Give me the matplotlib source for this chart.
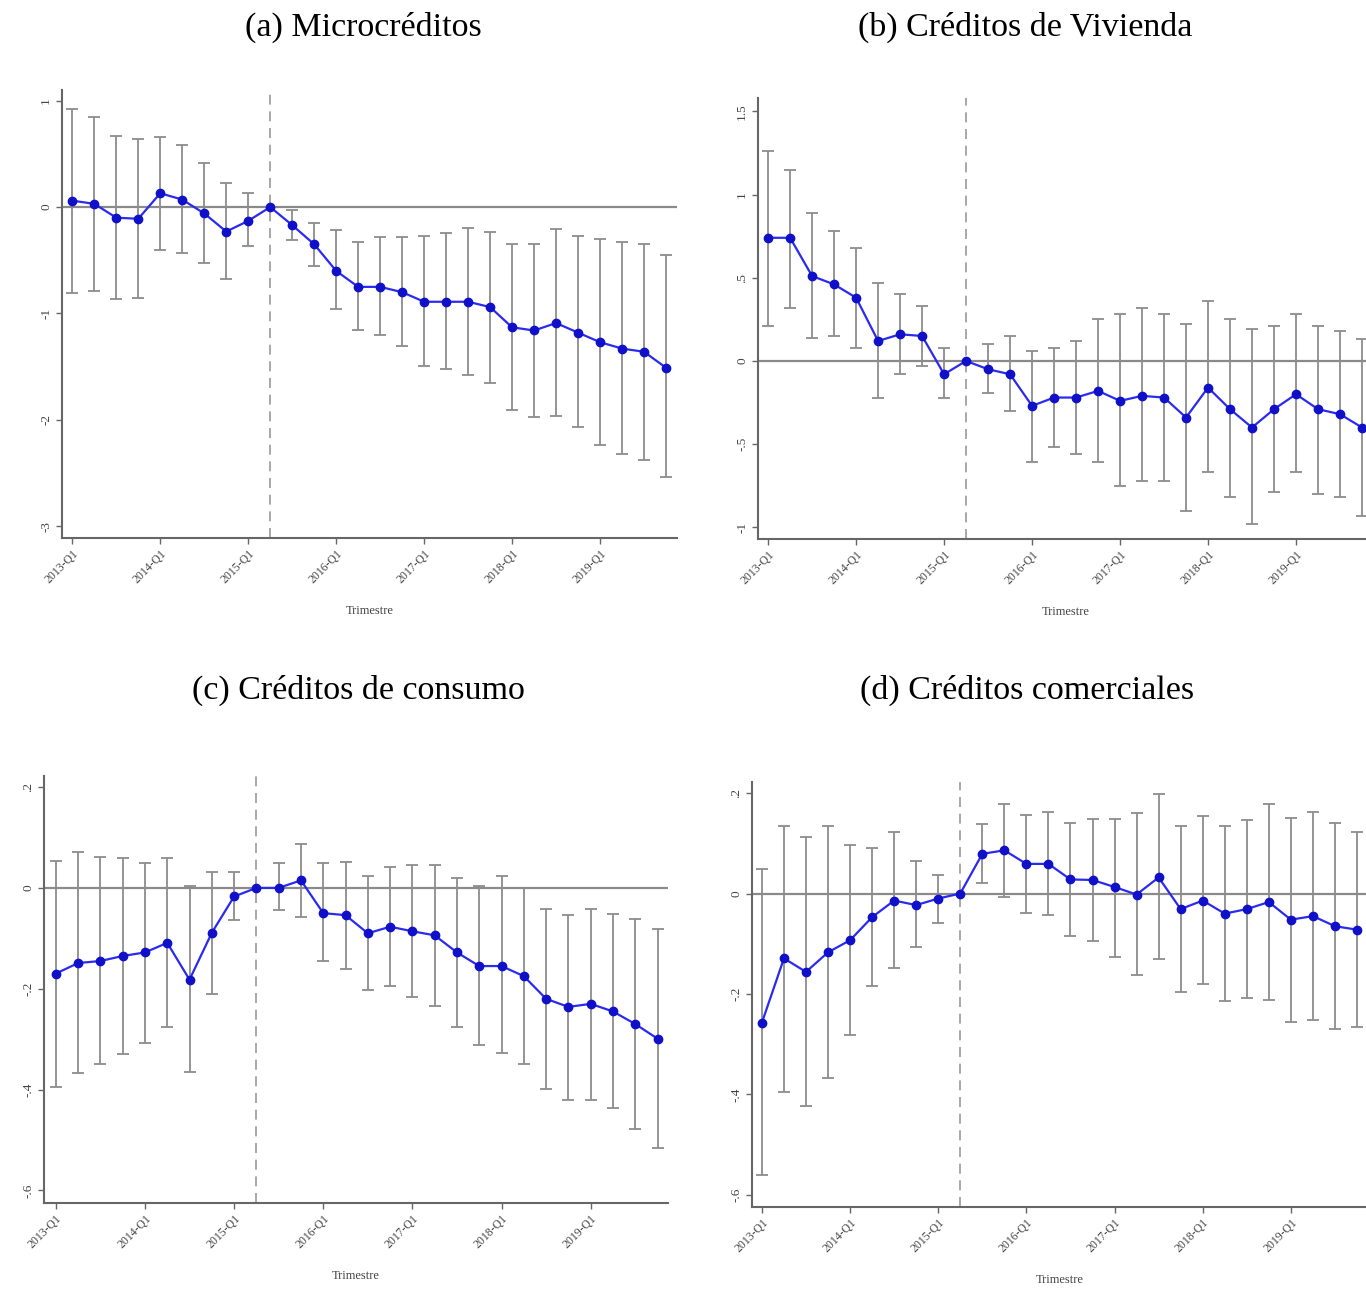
import numpy as np
import matplotlib
matplotlib.use("Agg")
import matplotlib.pyplot as plt

quarters = [f"{y}-Q{q}" for y in range(2013, 2020) for q in range(1, 5)]
tick_labels = [f"{y}-Q1" for y in range(2013, 2020)]

nan = np.nan
# (a) Microcréditos
micro_est = [0.06, 0.03, -0.10, -0.11, 0.13, 0.07, -0.06, -0.23, -0.13, 0.0,
             -0.17, -0.35, -0.60, -0.75, -0.75, -0.80, -0.89, -0.89, -0.89, -0.94,
             -1.13, -1.16, -1.09, -1.18, -1.27, -1.33, -1.36, -1.51]
micro_hi = [0.92, 0.85, 0.67, 0.64, 0.66, 0.58, 0.41, 0.23, 0.13, nan,
            -0.03, -0.15, -0.22, -0.33, -0.28, -0.28, -0.27, -0.24, -0.20, -0.23,
            -0.35, -0.35, -0.21, -0.27, -0.30, -0.33, -0.35, -0.45]
micro_lo = [-0.81, -0.79, -0.86, -0.85, -0.40, -0.43, -0.53, -0.68, -0.37, nan,
            -0.31, -0.55, -0.96, -1.16, -1.20, -1.31, -1.49, -1.52, -1.58, -1.65,
            -1.91, -1.97, -1.96, -2.07, -2.24, -2.32, -2.38, -2.54]

# (b) Créditos de Vivienda
viv_est = [0.74, 0.74, 0.51, 0.46, 0.38, 0.12, 0.16, 0.15, -0.08, 0.0,
           -0.05, -0.08, -0.27, -0.22, -0.22, -0.18, -0.24, -0.21, -0.22, -0.34,
           -0.16, -0.29, -0.40, -0.29, -0.20, -0.29, -0.32, -0.40]
viv_hi = [1.26, 1.15, 0.89, 0.78, 0.68, 0.47, 0.40, 0.33, 0.08, nan,
          0.10, 0.15, 0.06, 0.08, 0.12, 0.25, 0.28, 0.32, 0.28, 0.22,
          0.36, 0.25, 0.19, 0.21, 0.28, 0.21, 0.18, 0.13]
viv_lo = [0.21, 0.32, 0.14, 0.15, 0.08, -0.22, -0.08, -0.03, -0.22, nan,
          -0.19, -0.30, -0.61, -0.52, -0.56, -0.61, -0.75, -0.72, -0.72, -0.90,
          -0.67, -0.82, -0.98, -0.79, -0.67, -0.80, -0.82, -0.93]

# (c) Créditos de consumo
cons_est = [-0.170, -0.149, -0.145, -0.135, -0.128, -0.109, -0.182, -0.089, -0.017, 0.0,
            0.000, 0.015, -0.050, -0.054, -0.090, -0.077, -0.086, -0.094, -0.128, -0.155,
            -0.155, -0.175, -0.220, -0.236, -0.230, -0.245, -0.270, -0.299]
cons_hi = [0.054, 0.071, 0.061, 0.060, 0.050, 0.059, 0.003, 0.032, 0.031, nan,
           0.049, 0.088, 0.049, 0.052, 0.023, 0.041, 0.045, 0.045, 0.019, 0.003,
           0.023, -0.001, -0.041, -0.054, -0.041, -0.052, -0.061, -0.081]
cons_lo = [-0.394, -0.367, -0.350, -0.329, -0.308, -0.276, -0.366, -0.211, -0.063, nan,
           -0.043, -0.057, -0.145, -0.160, -0.202, -0.194, -0.217, -0.234, -0.276, -0.312,
           -0.328, -0.349, -0.399, -0.420, -0.420, -0.437, -0.478, -0.515]

# (d) Créditos comerciales
com_est = [-0.257, -0.129, -0.156, -0.117, -0.093, -0.047, -0.014, -0.023, -0.010, 0.0,
           0.079, 0.086, 0.059, 0.059, 0.028, 0.027, 0.013, -0.002, 0.032, -0.031,
           -0.014, -0.040, -0.031, -0.017, -0.052, -0.045, -0.065, -0.072]
com_hi = [0.048, 0.134, 0.113, 0.134, 0.096, 0.091, 0.122, 0.065, 0.037, nan,
          0.139, 0.178, 0.156, 0.163, 0.140, 0.149, 0.149, 0.161, 0.198, 0.134,
          0.154, 0.134, 0.146, 0.178, 0.150, 0.163, 0.140, 0.123]
com_lo = [-0.561, -0.395, -0.422, -0.368, -0.281, -0.185, -0.149, -0.107, -0.058, nan,
          0.021, -0.006, -0.039, -0.043, -0.085, -0.095, -0.126, -0.162, -0.131, -0.197,
          -0.181, -0.213, -0.207, -0.212, -0.255, -0.251, -0.270, -0.266]

panels = [
    ("(a) Microcréditos", micro_est, micro_lo, micro_hi,
     [1, 0, -1, -2, -3], ["1", "0", "-1", "-2", "-3"], (-3.11, 1.10)),
    ("(b) Créditos de Vivienda", viv_est, viv_lo, viv_hi,
     [1.5, 1, 0.5, 0, -0.5, -1], ["1.5", "1", ".5", "0", "-.5", "-1"], (-1.07, 1.58)),
    ("(c) Créditos de consumo", cons_est, cons_lo, cons_hi,
     [0.2, 0, -0.2, -0.4, -0.6], [".2", "0", "-.2", "-.4", "-.6"], (-0.625, 0.222)),
    ("(d) Créditos comerciales", com_est, com_lo, com_hi,
     [0.2, 0, -0.2, -0.4, -0.6], [".2", "0", "-.2", "-.4", "-.6"], (-0.624, 0.222)),
]

W, H = 1366, 1289
# pixel boxes: left, right, top, bottom
boxes = [(62, 677, 90, 538), (758, 1373, 98, 539),
         (44, 668, 776, 1203), (752, 1368, 782, 1207)]
xlims = [(-0.47, 27.5), (-0.46, 27.5), (-0.53, 27.47), (-0.45, 27.5)]
title_pos = [(363, 27), (1025, 27), (358, 690), (1027, 690)]

plt.rcParams['font.family'] = ['Liberation Serif', 'DejaVu Serif']
fig = plt.figure(figsize=(W / 100, H / 100), dpi=100)

x = np.arange(len(quarters))
tick_pos = [quarters.index(t) for t in tick_labels]
event = quarters.index("2015-Q2")

for i, (title, est, lo, hi, yt, ytl, ylim) in enumerate(panels):
    l, r, t, b = boxes[i]
    ax = fig.add_axes([l / W, 1 - b / H, (r - l) / W, (b - t) / H])
    est = np.array(est)
    lo = np.array(lo)
    hi = np.array(hi)
    ax.axhline(0, color='#8a8a8a', lw=1.6, zorder=1)
    ax.axvline(event, color='#9a9a9a', lw=1.2, ls=(0, (6, 4)), zorder=1)
    err = np.vstack([est - lo, hi - est])
    ax.errorbar(x, est, yerr=err, fmt='none', ecolor='#8c8c8c', elinewidth=1.3,
                capsize=4, capthick=1.3, zorder=2)
    ax.plot(x, est, color='#2a2af0', lw=1.6, marker='o', markersize=6,
            markerfacecolor='#1010c8', markeredgecolor='#1010c8', zorder=3,
            clip_on=False)
    ax.set_xlim(*xlims[i])
    ax.set_ylim(*ylim)
    ax.set_xticks(tick_pos)
    ax.set_xticklabels(tick_labels, rotation=45, ha='right', rotation_mode='anchor',
                       fontsize=8.5, color='#444444')
    ax.set_yticks(yt)
    ax.set_yticklabels(ytl, rotation=90, va='center', fontsize=9.5, color='#444444')
    ax.tick_params(axis='both', length=4, width=1, color='#666666', pad=3)
    for s in ['top', 'right']:
        ax.spines[s].set_visible(False)
    for s in ['left', 'bottom']:
        ax.spines[s].set_color('#666666')
        ax.spines[s].set_linewidth(1.5)
    ax.set_xlabel("Trimestre", fontsize=9, color='#444444', labelpad=14)
    tx, ty = title_pos[i]
    fig.text(tx / W, 1 - ty / H, title, ha='center', va='center', fontsize=24.5)

fig.savefig("out.png", dpi=100)
